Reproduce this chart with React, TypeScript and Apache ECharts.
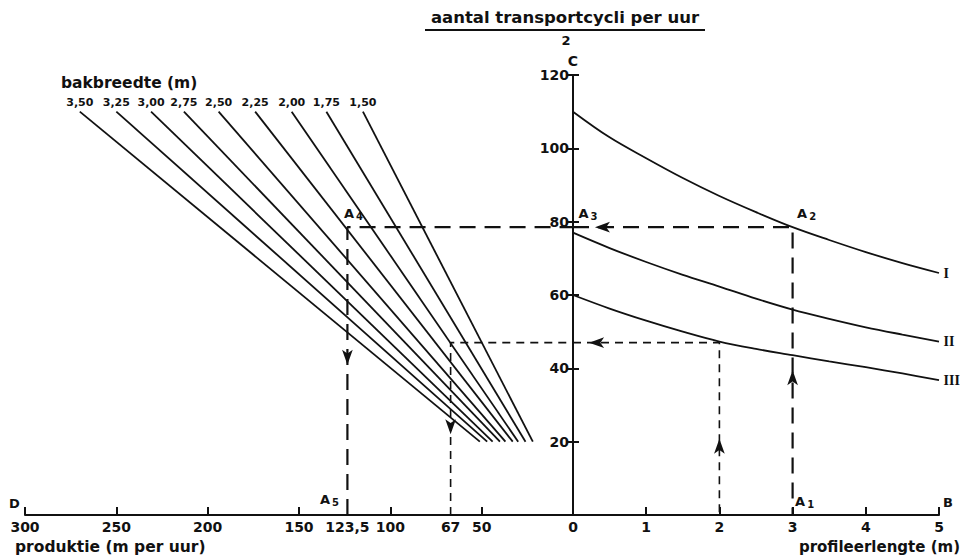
import React, { useEffect, useRef } from "react";
import * as echarts from "echarts";

// ---- data ----
const bakbreedteLabels = ["3,50", "3,25", "3,00", "2,75", "2,50", "2,25", "2,00", "1,75", "1,50"];
const fanTopCycles = 110;
const fanBottomCycles = 20;
const fanTopProduction = [270, 250, 231, 213, 194, 174, 154, 135, 115];
const fanBottomProduction = [51, 47, 44, 40, 37, 33, 30, 26, 22];

const profileLength = [0, 0.5, 1, 1.5, 2, 2.5, 3, 3.5, 4, 4.5, 5];
const curveI = [110, 103, 97.3, 91.9, 87, 82.6, 78.5, 75, 71.7, 68.7, 66];
const curveII = [77, 72.8, 69, 65.5, 62.3, 59, 56, 53.5, 51.2, 49.2, 47.3];
const curveIII = [60, 56.3, 53, 50, 47.3, 45.3, 43.6, 41.9, 40.3, 38.6, 36.8];
const curveNames = ["I", "II", "III"];

const productionTicks = [300, 250, 200, 150, 100, 50];
const productionLabels = [300, 250, 200, 150, 123.5, 100, 67, 50];
const cycleTicks = [20, 40, 60, 80, 100, 120];

// worked examples: profile length -> cycles per hour -> production
const exampleLength = [3, 2];
const exampleCycles = [78.5, 47];
const exampleProduction = [123.5, 67];
const arrowUpCycles = [39.5, 20.8];
const arrowLeftLength = [0.3, 0.22];
const arrowDownCycles = [41, 22];

const INK = "#111";
const FONT = "DejaVu Sans";

export default function App() {
  const ref = useRef<HTMLDivElement>(null);

  useEffect(() => {
    if (!ref.current) return;
    const chart = echarts.init(ref.current, undefined, { renderer: "svg" });

    const txt = { color: INK, fontFamily: FONT, fontWeight: "bold" as const };
    const curves = [curveI, curveII, curveIII];
    const series: any[] = [];
    const hidden = { color: "rgba(0,0,0,0)", opacity: 1 };

    // fan lines (bakbreedte)
    fanTopProduction.forEach((top, i) => {
      series.push({
        type: "line",
        name: "b " + bakbreedteLabels[i],
        xAxisIndex: 0,
        yAxisIndex: 0,
        data: [
          [top, fanTopCycles],
          [fanBottomProduction[i], fanBottomCycles],
        ],
        symbol: "none",
        silent: true,
        lineStyle: { color: INK, width: 1.8 },
      });
    });
    series.push({
      type: "scatter",
      xAxisIndex: 0,
      yAxisIndex: 0,
      symbolSize: 1,
      itemStyle: hidden,
      silent: true,
      data: fanTopProduction.map((p, i) => ({ value: [p, fanTopCycles], name: bakbreedteLabels[i] })),
      label: { show: true, position: "top", distance: 3, formatter: "{b}", fontSize: 11, ...txt, opacity: 1 },
    });

    // curves I, II, III
    curves.forEach((c, k) => {
      series.push({
        type: "line",
        name: curveNames[k],
        xAxisIndex: 1,
        yAxisIndex: 1,
        smooth: 0.35,
        symbol: "none",
        silent: true,
        data: profileLength.map((x, i) => [x, c[i]]),
        lineStyle: { color: INK, width: 1.8 },
      });
    });
    series.push({
      type: "scatter",
      xAxisIndex: 1,
      yAxisIndex: 1,
      symbolSize: 1,
      itemStyle: hidden,
      silent: true,
      data: curves.map((c, k) => ({ value: [profileLength[profileLength.length - 1], c[c.length - 1]], name: curveNames[k] })),
      label: {
        show: true,
        position: "right",
        distance: 4,
        formatter: "{b}",
        color: INK,
        fontFamily: "Liberation Serif",
        fontWeight: "bold",
        fontSize: 14,
      },
    });

    // dashed guide lines of the worked examples
    exampleLength.forEach((L, i) => {
      const C = exampleCycles[i];
      const P = exampleProduction[i];
      const ls =
        i === 0
          ? { color: INK, width: 2.2, type: [16, 9] }
          : { color: INK, width: 1.6, type: [8, 6] };
      series.push({
        type: "line",
        xAxisIndex: 0,
        yAxisIndex: 0,
        symbol: "none",
        silent: true,
        data: [
          [P, 0],
          [P, C],
          [0, C],
        ],
        lineStyle: ls,
      });
      series.push({
        type: "line",
        xAxisIndex: 1,
        yAxisIndex: 1,
        symbol: "none",
        silent: true,
        data: [
          [0, C],
          [L, C],
          [L, 0],
        ],
        lineStyle: ls,
      });
    });

    // arrows
    const arrowBase = {
      type: "scatter",
      symbol: "arrow",
      silent: true,
      itemStyle: { color: INK, opacity: 1 },
    };
    series.push({
      ...arrowBase,
      xAxisIndex: 1,
      yAxisIndex: 1,
      symbolSize: [8, 15],
      symbolRotate: 0,
      data: exampleLength.map((L, i) => [L, arrowUpCycles[i]]),
    });
    series.push({
      ...arrowBase,
      xAxisIndex: 1,
      yAxisIndex: 1,
      symbolSize: [8, 15],
      symbolRotate: 90,
      data: exampleCycles.map((C, i) => [arrowLeftLength[i], C]),
    });
    series.push({
      ...arrowBase,
      xAxisIndex: 0,
      yAxisIndex: 0,
      symbolSize: [8, 15],
      symbolRotate: 180,
      data: exampleProduction.map((P, i) => [P, arrowDownCycles[i]]),
    });

    // A-point labels
    const rich = {
      a: { fontSize: 13, fontFamily: FONT, fontWeight: "bold", color: INK },
      s: { fontSize: 10, fontFamily: FONT, fontWeight: "bold", color: INK, padding: [7, 0, 0, 2] },
    };
    const L0 = exampleLength[0];
    const C0 = exampleCycles[0];
    const P0 = exampleProduction[0];
    series.push({
      type: "scatter",
      xAxisIndex: 1,
      yAxisIndex: 1,
      symbolSize: 1,
      silent: true,
      itemStyle: hidden,
      data: [
        { value: [L0, 0], label: { formatter: "{a|A}{s|1}", position: [3, -22] } },
        { value: [L0, C0], label: { formatter: "{a|A}{s|2}", position: [5, -22] } },
        { value: [0, C0], label: { formatter: "{a|A}{s|3}", position: [6, -22] } },
      ],
      label: { show: true, rich, color: INK, align: "left", verticalAlign: "top" },
    });
    series.push({
      type: "scatter",
      xAxisIndex: 0,
      yAxisIndex: 0,
      symbolSize: 1,
      silent: true,
      itemStyle: hidden,
      data: [
        { value: [P0, C0], label: { formatter: "{a|A}{s|4}", position: [-3, -22] } },
        { value: [P0, 0], label: { formatter: "{a|A}{s|5}", position: [-27, -24] } },
      ],
      label: { show: true, rich, color: INK, align: "left", verticalAlign: "top" },
    });

    const axisLine = { show: true, onZero: false, lineStyle: { color: INK, width: 2 } };

    chart.setOption({
      animation: false,
      backgroundColor: "#fff",
      grid: [
        { left: 25, width: 548, top: 75, height: 440 },
        { left: 573, width: 366, top: 75, height: 440 },
      ],
      xAxis: [
        {
          type: "value",
          gridIndex: 0,
          min: 0,
          max: 300,
          inverse: true,
          axisLine,
          axisTick: { show: true, inside: true, length: 8, customValues: productionTicks, lineStyle: { color: INK, width: 2 } },
          axisLabel: {
            customValues: productionLabels,
            formatter: (v: number) => String(v).replace(".", ","),
            fontSize: 14,
            margin: 5,
            ...txt,
          },
          splitLine: { show: false },
        },
        {
          type: "value",
          gridIndex: 1,
          min: 0,
          max: 5,
          interval: 1,
          axisLine,
          axisTick: { show: true, inside: true, length: 8, lineStyle: { color: INK, width: 2 } },
          axisLabel: { fontSize: 14, margin: 5, ...txt },
          splitLine: { show: false },
        },
      ],
      yAxis: [
        { type: "value", gridIndex: 0, min: 0, max: 120, show: false },
        {
          type: "value",
          gridIndex: 1,
          min: 0,
          max: 120,
          interval: 20,
          position: "left",
          name: "C",
          nameLocation: "end",
          nameGap: 6,
          nameTextStyle: { fontSize: 14, ...txt },
          axisLine,
          axisTick: { show: true, inside: false, length: 6, customValues: cycleTicks, lineStyle: { color: INK, width: 2 } },
          axisLabel: { customValues: cycleTicks, fontSize: 14, margin: 4, ...txt },
          splitLine: { show: false },
        },
        {
          type: "value",
          gridIndex: 1,
          min: 0,
          max: 120,
          interval: 20,
          position: "left",
          offset: 0,
          axisLine: { show: false },
          axisTick: { show: true, inside: true, length: 6, customValues: cycleTicks, lineStyle: { color: INK, width: 2 } },
          axisLabel: { show: false },
          splitLine: { show: false },
        },
      ],
      graphic: [
        {
          type: "text",
          x: 565,
          y: 9,
          style: { text: "aantal transportcycli per uur", fontSize: 16.5, ...txt, fill: INK, textAlign: "center" },
        },
        { type: "line", shape: { x1: 425, y1: 30, x2: 705, y2: 30 }, style: { stroke: INK, lineWidth: 2 } },
        { type: "text", x: 566, y: 34, style: { text: "2", fontSize: 13, ...txt, fill: INK, textAlign: "center" } },
        { type: "text", x: 61, y: 75, style: { text: "bakbreedte (m)", fontSize: 15.5, ...txt, fill: INK } },
        { type: "text", x: 9, y: 497, style: { text: "D", fontSize: 13, ...txt, fill: INK } },
        { type: "text", x: 943, y: 496, style: { text: "B", fontSize: 13, ...txt, fill: INK } },
        { type: "text", x: 15, y: 539, style: { text: "produktie (m per uur)", fontSize: 15.5, ...txt, fill: INK } },
        { type: "text", x: 960, y: 539, style: { text: "profileerlengte (m)", fontSize: 15, ...txt, fill: INK, textAlign: "right" } },
      ],
      series,
    });

    return () => chart.dispose();
  }, []);

  return (
    <div
      ref={ref}
      style={{ position: "fixed", left: 0, top: 0, width: 962, height: 557, background: "#fff" }}
    />
  );
}
